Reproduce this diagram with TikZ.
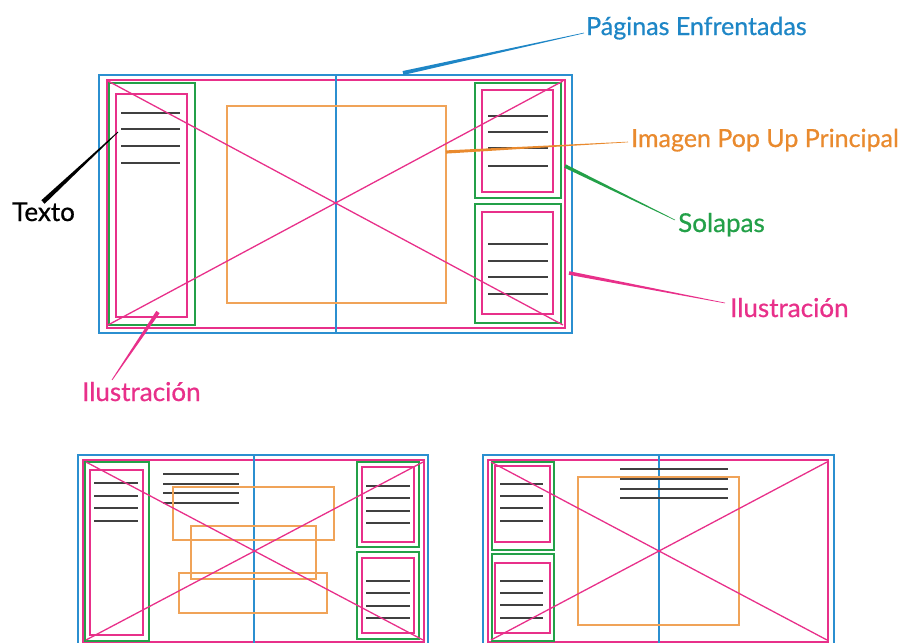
\documentclass[tikz,border=0pt]{standalone}
\usepackage{fontspec}
\setmainfont{Lato}
\newfontfamily\lblfont[FakeBold=0.7]{Lato}
\usetikzlibrary{calc}
\definecolor{cblue}{HTML}{2B8FD0}
\definecolor{cpink}{HTML}{E8308A}
\definecolor{cgreen}{HTML}{23A048}
\definecolor{corange}{HTML}{F0A358}
\definecolor{clorange}{HTML}{E98A2E}
\definecolor{clblue}{HTML}{1E86C6}
\newcommand{\brush}[5]{\fill[#1] ($(#2)!#4!90:(#3)$) -- ($(#3)!#5!-90:(#2)$) -- ($(#3)!#5!90:(#2)$) -- ($(#2)!#4!-90:(#3)$) -- cycle;}
\tikzset{
  blueline/.style={draw=cblue,line width=1.3pt},
  pinkline/.style={draw=cpink,line width=1.3pt},
  greenline/.style={draw=cgreen,line width=1.2pt},
  orangeline/.style={draw=corange,line width=1.2pt},
  txtline/.style={draw=black!75,line width=1.4pt},
  lbl/.style={anchor=base west,inner sep=0pt},
}
\begin{document}
\begin{tikzpicture}[x=1pt,y=-1pt]
\useasboundingbox (0,0) rectangle (903,643);
\clip (0,0) rectangle (903,643);
% ---------- main spread ----------
\draw[blueline] (99,75) rectangle (572,333);
\draw[pinkline] (107,80) rectangle (565,328);
\draw[blueline] (336,75) -- (336,333);
\draw[orangeline] (227,106) rectangle (446,303);
\draw[greenline] (109,83) rectangle (195,325);
\draw[pinkline] (116,94) rectangle (187,317);
\foreach \y in {113,129,146,163} \draw[txtline] (121,\y) -- (180,\y);
\draw[greenline] (475,83) rectangle (561,198);
\draw[pinkline] (482,90) rectangle (553,192);
\foreach \y in {116,132,148,166} \draw[txtline] (488,\y) -- (548,\y);
\draw[greenline] (475,204) rectangle (561,323);
\draw[pinkline] (482,212) rectangle (553,314);
\foreach \y in {244,261,277,294} \draw[txtline] (488,\y) -- (548,\y);
\draw[pinkline] (108,81) -- (563,325);
\draw[pinkline] (108,325) -- (563,81);
% ---------- bottom left spread ----------
\draw[blueline] (78,455) rectangle (428,650);
\draw[pinkline] (83,460) rectangle (424,642);
\draw[blueline] (254,455) -- (254,650);
\draw[greenline] (85,462) rectangle (149,641);
\draw[pinkline] (90,470) rectangle (143,635);
\foreach \y in {483,496,508,521} \draw[txtline] (94,\y) -- (138,\y);
\foreach \y in {474,484,493,503} \draw[txtline] (163,\y) -- (239,\y);
\draw[orangeline] (173,487) rectangle (334,540);
\draw[orangeline] (191,526) rectangle (316,579);
\draw[orangeline] (179,573) rectangle (327,613);
\draw[greenline] (357,462) rectangle (419,547);
\draw[pinkline] (362,467) rectangle (414,542);
\foreach \y in {486,498,511,523} \draw[txtline] (366,\y) -- (410,\y);
\draw[greenline] (357,552) rectangle (419,639);
\draw[pinkline] (362,558) rectangle (414,633);
\foreach \y in {581,593,606,618} \draw[txtline] (366,\y) -- (410,\y);
\draw[pinkline] (86,462) -- (423,640);
\draw[pinkline] (86,640) -- (423,462);
% ---------- bottom right spread ----------
\draw[blueline] (483,455) rectangle (834,650);
\draw[pinkline] (488,460) rectangle (828,642);
\draw[blueline] (659,455) -- (659,650);
\draw[orangeline] (578,477) rectangle (739,625);
\foreach \y in {469,479,489,498} \draw[txtline] (620,\y) -- (728,\y);
\draw[greenline] (492,462) rectangle (554,550);
\draw[pinkline] (495,466) rectangle (550,542);
\foreach \y in {484,496,508,521} \draw[txtline] (500,\y) -- (543,\y);
\draw[greenline] (492,554) rectangle (554,641);
\draw[pinkline] (495,563) rectangle (550,633);
\foreach \y in {581,593,605,618} \draw[txtline] (500,\y) -- (543,\y);
\draw[pinkline] (491,462) -- (827,640);
\draw[pinkline] (491,640) -- (827,462);
% ---------- labels ----------
\node[lbl,text=clblue,font=\lblfont\fontsize{25}{29}\selectfont] (lpag) at (586,35) {Páginas Enfrentadas};
\node[lbl,text=clorange,font=\lblfont\fontsize{25}{29}\selectfont] (limg) at (631,147) {Imagen Pop Up Principal};
\node[lbl,text=cgreen,font=\lblfont\fontsize{26}{30}\selectfont] (lsol) at (678,232) {Solapas};
\node[lbl,text=cpink,font=\lblfont\fontsize{26}{30}\selectfont] (lilr) at (730,317) {Ilustración};
\node[lbl,text=black,font=\lblfont\fontsize{26}{30}\selectfont] (ltex) at (12,221) {Texto};
\node[lbl,text=cpink,font=\lblfont\fontsize{26}{30}\selectfont] (lill) at (82,401) {Ilustración};
% ---------- leaders ----------
\coordinate (pagA) at (403,73);   \coordinate (pagB) at (584,33);
\coordinate (imgA) at (446,152);  \coordinate (imgB) at (628,142);
\coordinate (solA) at (565,166);  \coordinate (solB) at (675,220);
\coordinate (ilrA) at (569,273);  \coordinate (ilrB) at (725,303);
\coordinate (texA) at (118,132);  \coordinate (texB) at (43,202);
\coordinate (illA) at (158,312);  \coordinate (illB) at (112,380);
\brush{clblue}{pagA}{pagB}{2pt}{0.3pt}
\brush{clorange}{imgA}{imgB}{1.6pt}{0.3pt}
\brush{cgreen}{solA}{solB}{1.8pt}{0.3pt}
\brush{cpink}{ilrA}{ilrB}{1.8pt}{0.3pt}
\brush{black}{texA}{texB}{0.4pt}{2.4pt}
\brush{cpink}{illA}{illB}{2pt}{0.4pt}
\end{tikzpicture}
\end{document}
